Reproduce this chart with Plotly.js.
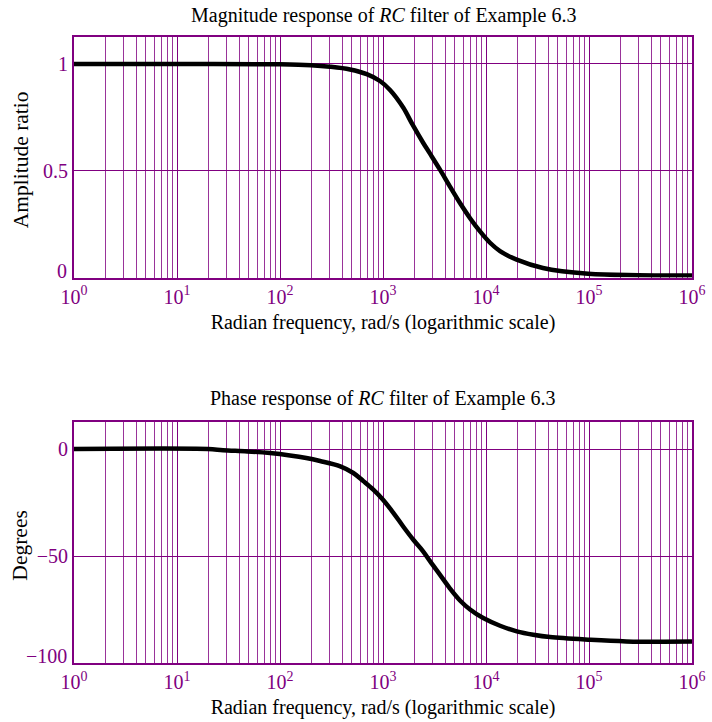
<!DOCTYPE html>
<html>
<head>
<meta charset="utf-8">
<script src="https://cdn.plot.ly/plotly-3.0.1.min.js"></script>
<style>html,body{margin:0;padding:0;background:#fff;}#chart{width:712px;height:722px;}</style>
</head>
<body>
<div id="chart"></div>
<script>
// Magnitude response
const magFreq = [1, 10, 100, 200, 306, 478, 695, 935, 1170, 1570, 1925, 2460, 2860, 3575, 4470, 5590, 7000, 8750, 10940, 13680, 19870, 35700, 98000, 300000, 1000000];
const magValue = [1, 1, 0.998, 0.994, 0.987, 0.974, 0.952, 0.920, 0.878, 0.796, 0.718, 0.630, 0.580, 0.505, 0.426, 0.349, 0.278, 0.216, 0.163, 0.124, 0.084, 0.045, 0.018, 0.011, 0.01];

// Phase response
const phFreq = [1, 20, 28, 48, 80, 125, 180, 245, 385, 515, 645, 805, 1000, 1260, 1570, 1970, 2460, 2860, 3580, 4470, 5590, 7000, 9400, 13700, 19900, 28800, 41800, 98000, 230000, 1000000];
const phValue = [0, 0, -0.6, -1.1, -1.9, -3.0, -4.2, -5.6, -8.1, -11.2, -15.0, -19.0, -23.7, -29.8, -36.2, -42.4, -47.9, -52.4, -58.8, -65.2, -70.8, -75.0, -79.0, -82.6, -85.2, -86.8, -87.9, -89.1, -89.9, -90];

// Tick labels
const xTickVals = [1, 10, 100, 1000, 10000, 100000, 1000000];
const xTickText = ['10<sup>0</sup>', '10<sup>1</sup>', '10<sup>2</sup>', '10<sup>3</sup>', '10<sup>4</sup>', '10<sup>5</sup>', '10<sup>6</sup>'];
const magTickVals = [0, 0.5, 1];          // grid lines
const magTickText = ['', '0.5', '1'];     // lowest label drawn nudged up below
const magLowVal = 0, magLowText = '0';
const phTickVals = [-100, -50, 0];
const phTickText = ['', '\u221250', '0'];
const phLowVal = -100, phLowText = '\u2212100';

const titleTop = 'Magnitude response of <i>RC</i> filter of Example 6.3';
const titleBottom = 'Phase response of <i>RC</i> filter of Example 6.3';
const xLabel = 'Radian frequency, rad/s (logarithmic scale)';
const yLabelTop = 'Amplitude ratio';
const yLabelBottom = 'Degrees';

const PURPLE = '#800080';
const FONT = 'Liberation Serif, Times New Roman, serif';
const FS = 20;

function xAxis(anchor) {
  return {
    type: 'log', anchor: anchor, range: [0, 6],
    tickmode: 'array', tickvals: xTickVals, ticktext: xTickText,
    tickfont: {family: FONT, size: FS, color: PURPLE},
    ticks: '', showgrid: true, gridcolor: PURPLE, gridwidth: 1,
    minor: {dtick: 'D1', showgrid: true, gridcolor: 'rgba(128,0,128,0.8)', gridwidth: 1, ticks: ''},
    showline: true, linecolor: PURPLE, linewidth: 2, mirror: true,
    zeroline: false,
    title: {text: xLabel, font: {family: FONT, size: FS, color: '#000'}, standoff: 8}
  };
}
function yAxis(anchor, domain, range, tv, tt) {
  return {
    anchor: anchor, domain: domain, range: range,
    tickmode: 'array', tickvals: tv, ticktext: tt,
    tickfont: {family: FONT, size: FS, color: PURPLE},
    ticks: '', showgrid: true, gridcolor: PURPLE, gridwidth: 1,
    showline: true, linecolor: PURPLE, linewidth: 2, mirror: true,
    zeroline: false
  };
}

const data = [
  {x: magFreq, y: magValue, xaxis: 'x', yaxis: 'y', mode: 'lines', line: {color: '#000', width: 4.5, shape: 'spline'}, hoverinfo: 'x+y'},
  {x: phFreq, y: phValue, xaxis: 'x2', yaxis: 'y2', mode: 'lines', line: {color: '#000', width: 4.5, shape: 'spline'}, hoverinfo: 'x+y'}
];

function lowLabel(text, yref, yval) {
  return {text: text, xref: 'paper', yref: yref, x: -0.0097, y: yval, xanchor: 'right', yanchor: 'middle',
          yshift: 7, showarrow: false, borderpad: 0, font: {family: FONT, size: FS, color: PURPLE}};
}

const layout = {
  width: 712, height: 722,
  margin: {l: 74, r: 20, t: 37, b: 59},
  paper_bgcolor: '#fff', plot_bgcolor: '#fff',
  showlegend: false,
  font: {family: FONT, size: FS, color: '#000'},
  xaxis: xAxis('y'),
  yaxis: yAxis('x', [0.6157, 1], [0, 1.126], magTickVals, magTickText),
  xaxis2: xAxis('y2'),
  yaxis2: yAxis('x2', [0, 0.3842], [-100, 12.4], phTickVals, phTickText),
  annotations: [
    {text: titleTop, xref: 'paper', yref: 'paper', x: 0.5, y: 1.034, xanchor: 'center', yanchor: 'middle', showarrow: false, font: {family: FONT, size: FS, color: '#000'}},
    {text: titleBottom, xref: 'paper', yref: 'paper', x: 0.5, y: 0.423, xanchor: 'center', yanchor: 'middle', showarrow: false, font: {family: FONT, size: FS, color: '#000'}},
    {text: yLabelTop, xref: 'paper', yref: 'y domain', x: -0.0866, y: 0.49, xanchor: 'center', yanchor: 'middle', textangle: -90, showarrow: false, font: {family: FONT, size: 21.5, color: '#000'}},
    {text: yLabelBottom, xref: 'paper', yref: 'y2 domain', x: -0.0866, y: 0.49, xanchor: 'center', yanchor: 'middle', textangle: -90, showarrow: false, font: {family: FONT, size: 21.5, color: '#000'}},
    lowLabel(magLowText, 'y', magLowVal),
    lowLabel(phLowText, 'y2', phLowVal)
  ]
};

Plotly.newPlot('chart', data, layout, {staticPlot: true, displayModeBar: false});
</script>
</body>
</html>
